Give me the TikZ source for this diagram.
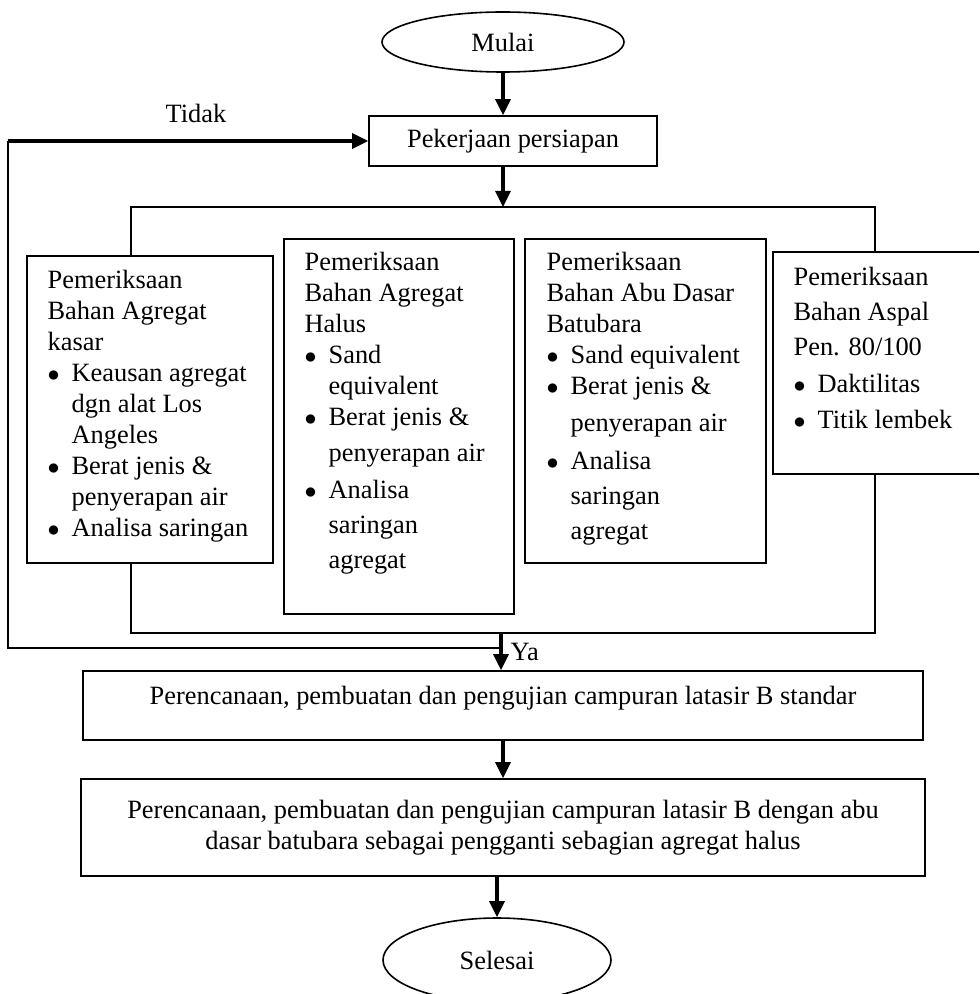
\documentclass[tikz,border=0pt]{standalone}
\usepackage{fontspec}
\setmainfont{Liberation Serif}
\usetikzlibrary{shapes.geometric,arrows.meta}

\newcommand{\bul}{\makebox[12pt][l]{$\bullet$}}
\newcommand{\ind}{\hspace*{12pt}}

\begin{document}
\begin{tikzpicture}[x=0.5pt, y=-0.5pt,
  every node/.style={font=\fontsize{13.2}{15.5}\selectfont},
  kotak/.style={draw, line width=0.8pt, rectangle, inner sep=0pt},
  oval/.style={draw, line width=0.8pt, ellipse, inner sep=0pt},
  isi/.style={anchor=north west, align=left, inner sep=0pt},
  garis/.style={line width=0.8pt},
  panah/.style={line width=1.6pt, -{Triangle[width=7.5pt,length=8pt]}}]
	\clip (0,0) rectangle (979,994);
	% terminal dan pekerjaan awal
	\node[oval, minimum width=121pt, minimum height=30pt] (mulai) at (503,42) {Mulai};
	\node[kotak, minimum width=144pt, minimum height=25pt] (siap) at (513,141) {Pekerjaan persiapan};
	% kotak pemeriksaan bahan
	\node[kotak, minimum width=123pt, minimum height=153.5pt] (kasar) at (150,409.5) {};
	\node[isi] (tkasar) at ([xshift=10.5pt,yshift=-7.5pt]kasar.north west) {Pemeriksaan\\ Bahan Agregat\\ kasar\\ \bul Keausan agregat\\ \ind dgn alat Los\\ \ind Angeles\\ \bul Berat jenis \&\\ \ind penyerapan air\\ \bul Analisa saringan};
	\node[kotak, minimum width=115pt, minimum height=187.5pt] (halus) at (399,426.5) {};
	\node[isi] (thalus) at ([xshift=10.5pt,yshift=-7pt]halus.north west) {Pemeriksaan\\ Bahan Agregat\\ Halus\\ \bul Sand\\ \ind equivalent\\ \bul Berat jenis \&\\[2.5pt] \ind penyerapan air\\[3pt] \bul Analisa\\[2pt] \ind saringan\\[2pt] \ind agregat};
	\node[kotak, minimum width=120.5pt, minimum height=162pt] (abu) at (645.5,401) {};
	\node[isi] (tabu) at ([xshift=11pt,yshift=-7pt]abu.north west) {Pemeriksaan\\ Bahan Abu Dasar\\ Batubara\\ \bul Sand equivalent\\ \bul Berat jenis \&\\[3pt] \ind penyerapan air\\[3.5pt] \bul Analisa\\[2pt] \ind saringan\\[2pt] \ind agregat};
	\node[kotak, minimum width=106pt, minimum height=111pt] (aspal) at (879,363) {};
	\node[isi] (taspal) at ([xshift=10.5pt,yshift=-8pt]aspal.north west) {Pemeriksaan\\[2pt] Bahan Aspal\\[2pt] Pen. 80/100\\[3pt] \bul Daktilitas\\[2.5pt] \bul Titik lembek};
	% perencanaan campuran dan akhir
	\node[kotak, minimum width=420pt, text height=16.5pt, text depth=18pt] (standar) at (503,705.5) {Perencanaan, pembuatan dan pengujian campuran latasir B standar};
	\node[kotak, minimum width=422pt, minimum height=48.5pt, align=center] (abudasar) at (503,827.5) {Perencanaan, pembuatan dan pengujian campuran latasir B dengan abu\\ dasar batubara sebagai pengganti sebagian agregat halus};
	\node[oval, minimum width=114pt, minimum height=42pt] (selesai) at (497,960) {Selesai};
	% titik bantu
	\coordinate (bagi) at (503,207);
	\coordinate (kiri) at (131,207);
	\coordinate (kanan) at (875,207);
	\coordinate (kumpul) at (501,633);
	\coordinate (balik) at (8,648);
	% penghubung
	\draw[panah] (mulai.south) -- (mulai.south |- siap.north);
	\draw[panah] (bagi |- siap.south) -- (bagi);
	\draw[garis] (kiri |- kasar.north) -- (kiri) -- (kanan) -- (kanan |- aspal.north);
	\draw[garis] (kiri |- kasar.south) -- (kiri |- kumpul) -- (kanan |- kumpul) -- (kanan |- aspal.south);
	\draw[panah] (kumpul) -- (kumpul |- standar.north) node[midway, right, inner sep=4pt] (ya) {Ya};
	\draw[garis] (kumpul |- balik) -- (balik) -- (balik |- siap.west);
	\draw[panah] (balik |- siap.west) -- (siap.west);
	\node (tidak) at (196,113) {Tidak};
	\draw[panah] (standar) -- (abudasar);
	\draw[panah] (abudasar.south -| selesai) -- (selesai);
\end{tikzpicture}
\end{document}
